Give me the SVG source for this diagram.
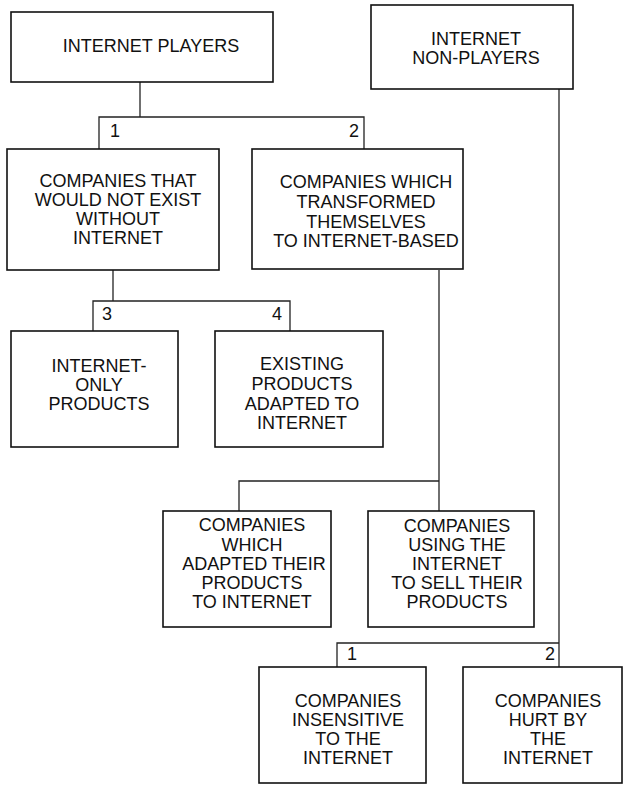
<svg xmlns="http://www.w3.org/2000/svg" width="623" height="785" viewBox="0 0 623 785">
  <style>
    .box { fill: #ffffff; stroke: #111111; stroke-width: 1.6; }
    .wire { fill: none; stroke: #222222; stroke-width: 1.3; }
    text { font-family: "Liberation Sans", Arial, sans-serif; font-size: 18px; fill: #111111; }
    .c { text-anchor: middle; }
    .r { text-anchor: end; }
  </style>
  <rect width="623" height="785" fill="#ffffff"/>

  <!-- connectors -->
  <g id="connectors">
    <!-- players branch -->
    <polyline class="wire" points="140,82 140,117"/>
    <polyline class="wire" points="99,149 99,117 364,117 364,149"/>
    <text x="110" y="137">1</text>
    <text x="359" y="137" class="r">2</text>
    <!-- branch under "would not exist" -->
    <polyline class="wire" points="113,270 113,301"/>
    <polyline class="wire" points="93,331 93,301 290,301 290,331"/>
    <text x="102" y="320">3</text>
    <text x="282" y="320" class="r">4</text>
    <!-- branch under "transformed" -->
    <polyline class="wire" points="439,270 439,511"/>
    <polyline class="wire" points="239,511 239,481 439,481"/>
    <!-- non-players branch -->
    <polyline class="wire" points="559,89 559,667"/>
    <polyline class="wire" points="337,667 337,643 559,643"/>
    <text x="347" y="660">1</text>
    <text x="555" y="660" class="r">2</text>
  </g>

  <g id="internet-players">
    <rect class="box" x="11" y="12" width="262" height="70"/>
    <text x="151" y="52" class="c">INTERNET PLAYERS</text>
  </g>

  <g id="internet-non-players">
    <rect class="box" x="371" y="5" width="202" height="84"/>
    <text class="c"><tspan x="476" y="45">INTERNET</tspan><tspan x="476" y="64">NON-PLAYERS</tspan></text>
  </g>

  <g id="would-not-exist">
    <rect class="box" x="7" y="149" width="212" height="121"/>
    <text class="c"><tspan x="118" y="187">COMPANIES THAT</tspan><tspan x="118" y="206">WOULD NOT EXIST</tspan><tspan x="118" y="225">WITHOUT</tspan><tspan x="118" y="244">INTERNET</tspan></text>
  </g>

  <g id="transformed">
    <rect class="box" x="252" y="149" width="211" height="120"/>
    <text class="c"><tspan x="366" y="188">COMPANIES WHICH</tspan><tspan x="366" y="208">TRANSFORMED</tspan><tspan x="366" y="228">THEMSELVES</tspan><tspan x="366" y="247">TO INTERNET-BASED</tspan></text>
  </g>

  <g id="internet-only">
    <rect class="box" x="11" y="331" width="167" height="116"/>
    <text class="c"><tspan x="99" y="372">INTERNET-</tspan><tspan x="99" y="391">ONLY</tspan><tspan x="99" y="410">PRODUCTS</tspan></text>
  </g>

  <g id="existing-adapted">
    <rect class="box" x="215" y="331" width="168" height="116"/>
    <text class="c"><tspan x="302" y="370">EXISTING</tspan><tspan x="302" y="390">PRODUCTS</tspan><tspan x="302" y="410">ADAPTED TO</tspan><tspan x="302" y="429">INTERNET</tspan></text>
  </g>

  <g id="adapted-products">
    <rect class="box" x="163" y="511" width="168" height="116"/>
    <text class="c"><tspan x="252" y="531">COMPANIES</tspan><tspan x="252" y="551">WHICH</tspan><tspan x="254" y="570">ADAPTED THEIR</tspan><tspan x="252" y="589">PRODUCTS</tspan><tspan x="252" y="608">TO INTERNET</tspan></text>
  </g>

  <g id="selling-online">
    <rect class="box" x="368" y="511" width="166" height="116"/>
    <text class="c"><tspan x="457" y="532">COMPANIES</tspan><tspan x="457" y="551">USING THE</tspan><tspan x="457" y="570">INTERNET</tspan><tspan x="457" y="589">TO SELL THEIR</tspan><tspan x="457" y="608">PRODUCTS</tspan></text>
  </g>

  <g id="insensitive">
    <rect class="box" x="259" y="667" width="167" height="116"/>
    <text class="c"><tspan x="348" y="707">COMPANIES</tspan><tspan x="348" y="726">INSENSITIVE</tspan><tspan x="348" y="745">TO THE</tspan><tspan x="348" y="764">INTERNET</tspan></text>
  </g>

  <g id="hurt">
    <rect class="box" x="463" y="667" width="159" height="116"/>
    <text class="c"><tspan x="548" y="707">COMPANIES</tspan><tspan x="548" y="726">HURT BY</tspan><tspan x="548" y="745">THE</tspan><tspan x="548" y="764">INTERNET</tspan></text>
  </g>
</svg>
